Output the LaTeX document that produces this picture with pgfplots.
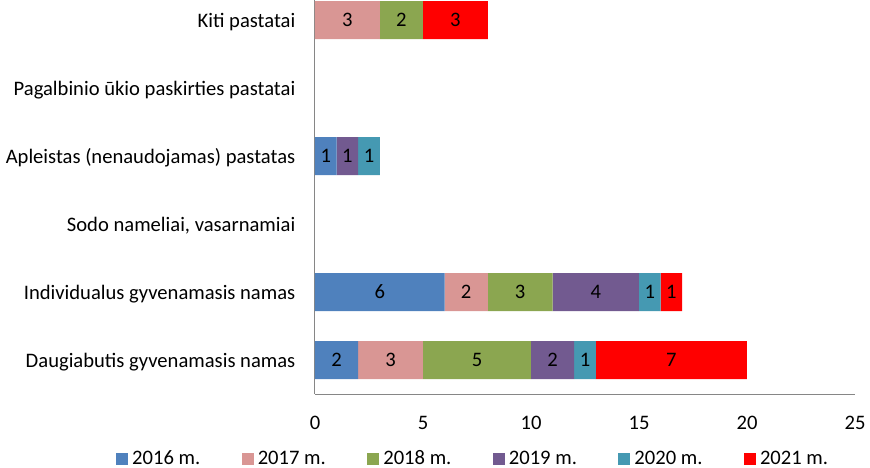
\documentclass[border=0pt]{standalone}
\usepackage{fontspec}
\setmainfont{Carlito}
\usepackage{pgfplots}
\pgfplotsset{compat=1.18}
\definecolor{c16}{HTML}{4F81BD}
\definecolor{c17}{HTML}{D99694}
\definecolor{c18}{HTML}{8BA650}
\definecolor{c19}{HTML}{725A90}
\definecolor{c20}{HTML}{4599B2}
\definecolor{c21}{HTML}{FF0000}
\definecolor{axisgray}{HTML}{868686}
\begin{document}
\fontsize{20.6bp}{24bp}\selectfont
\begin{tikzpicture}
\begin{axis}[
  at={(0,0)}, anchor=south west,
  scale only axis, width=540bp, height=408bp,
  xmin=0, xmax=25, ymin=-0.5, ymax=5.5,
  xbar stacked, bar width=38bp,
  axis x line=bottom, axis y line=left,
  axis line style={-, draw=axisgray, line width=1bp},
  xtick={0,5,...,25}, ytick={0,1,2,3,4,5},
  yticklabels={Daugiabutis gyvenamasis namas, Individualus gyvenamasis namas, {Sodo nameliai, vasarnamiai}, Apleistas (nenaudojamas) pastatas, Pagalbinio ūkio paskirties pastatai, Kiti pastatai},
  major tick length=0pt,
  /pgf/number format/assume math mode=true,
  xticklabel style={anchor=base, inner sep=0pt, yshift=-35bp},
  yticklabel style={anchor=base east, inner sep=0pt, xshift=-19.5bp, yshift=-7bp},
  legend columns=6,
  legend style={draw=none, fill=none, at={(axis description cs:-0.374,-0.1593)}, anchor=west,
    /tikz/every odd column/.append style={column sep=2bp},
    /tikz/every even column/.append style={column sep=39.5bp}},
  legend image code/.code={\draw[#1, draw=none] (0bp,-6bp) rectangle (12bp,6bp);},
]
\addplot[fill=c16, draw=none] coordinates {(2,0) (6,1) (0,2) (1,3) (0,4) (0,5)};
\addlegendentry{2016 m.}
\addplot[fill=c17, draw=none] coordinates {(3,0) (2,1) (0,2) (0,3) (0,4) (3,5)};
\addlegendentry{2017 m.}
\addplot[fill=c18, draw=none] coordinates {(5,0) (3,1) (0,2) (0,3) (0,4) (2,5)};
\addlegendentry{2018 m.}
\addplot[fill=c19, draw=none] coordinates {(2,0) (4,1) (0,2) (1,3) (0,4) (0,5)};
\addlegendentry{2019 m.}
\addplot[fill=c20, draw=none] coordinates {(1,0) (1,1) (0,2) (1,3) (0,4) (0,5)};
\addlegendentry{2020 m.}
\addplot[fill=c21, draw=none] coordinates {(7,0) (1,1) (0,2) (0,3) (0,4) (3,5)};
\addlegendentry{2021 m.}
\end{axis}
\begin{axis}[
  at={(0,0)}, anchor=south west,
  scale only axis, width=540bp, height=408bp,
  xmin=0, xmax=25, ymin=-0.5, ymax=5.5,
  hide axis,
]
\addplot[only marks, mark=none, nodes near coords, point meta=explicit symbolic,
  every node near coord/.style={anchor=center, inner sep=0pt, text=black}]
  coordinates {
  (1,0)[2] (3.5,0)[3] (7.5,0)[5] (11,0)[2] (12.5,0)[1] (16.5,0)[7]
  (3,1)[6] (7,1)[2] (9.5,1)[3] (13,1)[4] (15.5,1)[1] (16.5,1)[1]
  (0.5,3)[1] (1.5,3)[1] (2.5,3)[1]
  (1.5,5)[3] (4,5)[2] (6.5,5)[3]
  };
\end{axis}
\pgfresetboundingbox
\useasboundingbox (-315bp,-74bp) rectangle (555bp,394bp);
\end{tikzpicture}
\end{document}
